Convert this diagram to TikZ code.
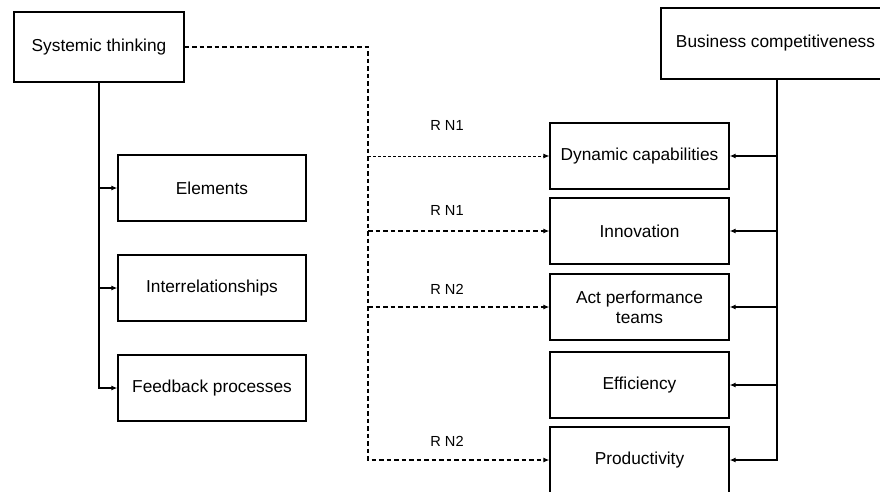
\documentclass[tikz,border=0pt]{standalone}
\usepackage{fontspec}
\setmainfont{Liberation Sans}
\usetikzlibrary{arrows.meta}
\begin{document}
\begin{tikzpicture}[x=1pt,y=-1pt,
  box/.style={draw, line width=1.3pt, inner sep=0pt, align=center,
    font=\fontsize{17.3}{20}\selectfont},
  leftbox/.style={box, minimum width=188pt, minimum height=66pt},
  rightbox/.style={box, minimum width=179pt, minimum height=66pt},
  link/.style={line width=1.3pt},
  tip/.style={-{Latex[length=6pt,width=5pt]}},
  dashlink/.style={line width=1.3pt, dash pattern=on 4.5pt off 3pt},
  thindash/.style={line width=0.8pt, dash pattern=on 3pt off 2pt},
  tag/.style={font=\fontsize{14.6}{18}\selectfont}]
\useasboundingbox (0,0) rectangle (880,491);
\clip (0,0) rectangle (880,491);

% main concepts
\node[box, minimum width=170pt, minimum height=70pt] (S) at (99,47) {Systemic thinking};
\node[box, minimum width=229pt, minimum height=71pt] (BC) at (775.5,43.5) {Business competitiveness};

% components of systemic thinking
\node[leftbox] (E) at (212,188) {Elements};
\node[leftbox] (I) at (212,288) {Interrelationships};
\node[leftbox] (F) at (212,388) {Feedback processes};

% dimensions of competitiveness
\node[rightbox] (D) at (639.5,156) {Dynamic capabilities};
\node[rightbox] (N) at (639.5,231) {Innovation};
\node[rightbox] (A) at (639.5,307) {Act performance\\teams};
\node[rightbox] (Ef) at (639.5,385) {Efficiency};
\node[rightbox] (P) at (639.5,460) {Productivity};

% systemic thinking tree
\draw[link, tip] (S.south) |- (F.west);
\draw[link, tip] (S.south |- E.west) -- (E.west);
\draw[link, tip] (S.south |- I.west) -- (I.west);

% competitiveness tree
\path (BC.south) ++(1.5,0) coordinate (rt);
\draw[link, tip] (rt) |- (P.east);
\draw[link, tip] (rt |- D.east) -- (D.east);
\draw[link, tip] (rt |- N.east) -- (N.east);
\draw[link, tip] (rt |- A.east) -- (A.east);
\draw[link, tip] (rt |- Ef.east) -- (Ef.east);

% relations between the two constructs
\coordinate (bus) at (368,47);
\draw[dashlink, tip] (S.east) -- (bus) |- (P.west);
\draw[thindash, tip] (bus |- D.west) -- (D.west);
\draw[dashlink, tip] (bus |- N.west) -- (N.west);
\draw[dashlink, tip] (bus |- A.west) -- (A.west);

% hypothesis labels
\node[tag] (h1) at (447,125) {R N1};
\node[tag] (h2) at (447,210) {R N1};
\node[tag] (h3) at (447,289) {R N2};
\node[tag] (h4) at (447,441) {R N2};
\end{tikzpicture}
\end{document}
